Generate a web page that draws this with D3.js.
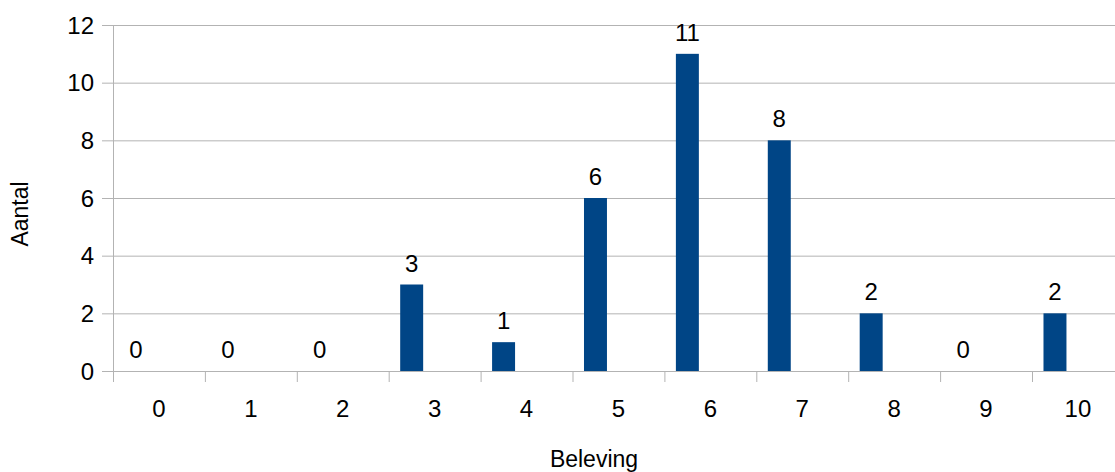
<!DOCTYPE html>
<html>
<head>
<meta charset="utf-8">
<script src="https://cdn.jsdelivr.net/npm/d3@7"></script>
<style>
  html, body { margin: 0; padding: 0; background: #fff; overflow: hidden; }
  svg { display: block; font-family: "Liberation Sans", Arial, sans-serif; }
</style>
</head>
<body>
<svg id="chart" width="1115" height="472"></svg>
<script>
const categories = ["0", "1", "2", "3", "4", "5", "6", "7", "8", "9", "10"];
const values = [0, 0, 0, 3, 1, 6, 11, 8, 2, 0, 2];
const yTicks = [0, 2, 4, 6, 8, 10, 12];
const xTitle = "Beleving";
const yTitle = "Aantal";

(function () {
const svg = d3.select("#chart");
const pLeft = 113, pTop = 25, pBottom = 371, band = 91.9;
const pRight = pLeft + categories.length * band;

const x = d3.scaleBand().domain(categories).range([pLeft, pRight]).padding(0);
const y = d3.scaleLinear().domain([0, 12]).range([pBottom, pTop]);
const grid = "#b3b3b3";

// horizontal gridlines + y tick marks
svg.append("g").selectAll("line").data(yTicks).join("line")
  .attr("x1", pLeft - 11).attr("x2", pRight)
  .attr("y1", d => y(d) + 0.5).attr("y2", d => y(d) + 0.5)
  .attr("stroke", grid).attr("stroke-width", 1);

// y axis line
svg.append("line").attr("x1", pLeft + 0.5).attr("x2", pLeft + 0.5)
  .attr("y1", pTop).attr("y2", pBottom + 11).attr("stroke", grid);

// x tick marks at band boundaries
svg.append("g").selectAll("line").data(categories).join("line")
  .attr("x1", d => x(d) + 0.5).attr("x2", d => x(d) + 0.5)
  .attr("y1", pBottom).attr("y2", pBottom + 11).attr("stroke", grid);

// bars
const bw = x.bandwidth();
svg.append("g").selectAll("rect").data(values).join("rect")
  .attr("x", (d, i) => x(categories[i]) + bw * 0.125)
  .attr("width", bw * 0.25)
  .attr("y", d => y(d))
  .attr("height", d => y(0) - y(d))
  .attr("fill", "#004586");

// value labels
svg.append("g").selectAll("text").data(values).join("text")
  .attr("x", (d, i) => x(categories[i]) + bw * 0.25)
  .attr("y", d => y(d) - 13)
  .attr("text-anchor", "middle")
  .attr("font-size", 24)
  .attr("fill", "#000")
  .text(d => d);

// y tick labels
svg.append("g").selectAll("text").data(yTicks).join("text")
  .attr("x", 94).attr("y", d => y(d))
  .attr("dy", "0.36em")
  .attr("text-anchor", "end")
  .attr("font-size", 24).attr("fill", "#000")
  .text(d => d);

// x tick labels
svg.append("g").selectAll("text").data(categories).join("text")
  .attr("x", d => x(d) + bw / 2).attr("y", 417)
  .attr("text-anchor", "middle")
  .attr("font-size", 24).attr("fill", "#000")
  .text(d => d);

// axis titles
svg.append("text").attr("x", 594).attr("y", 467)
  .attr("text-anchor", "middle").attr("font-size", 23).attr("fill", "#000")
  .text(xTitle);
svg.append("text")
  .attr("transform", "translate(28,214) rotate(-90)")
  .attr("text-anchor", "middle").attr("font-size", 23).attr("fill", "#000")
  .text(yTitle);
})();
</script>
</body>
</html>
